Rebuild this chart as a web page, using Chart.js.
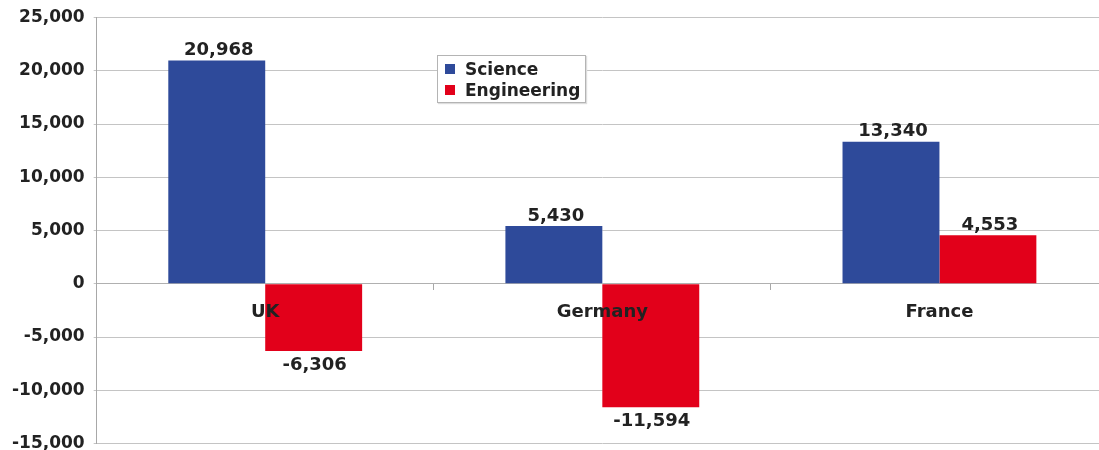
<!DOCTYPE html>
<html>
<head>
<meta charset="utf-8">
<script src="https://cdn.jsdelivr.net/npm/chart.js@4.4.1/dist/chart.umd.min.js"></script>
<style>
  html, body { margin: 0; padding: 0; background: #fff; overflow: hidden; }
  #wrap { position: relative; width: 1112px; height: 450px; overflow: hidden; }
  #legend {
    position: absolute; left: 437px; top: 55px; width: 147px; height: 46px;
    background: #fff; border: 1px solid #b4b4b4; box-shadow: 1px 1px 1px #ddd;
    font: bold 17px "DejaVu Sans", sans-serif; color: #222;
  }
  #legend .item { position: absolute; left: 7px; height: 20px; line-height: 20px; white-space: nowrap; }
  #legend .box { display: inline-block; width: 10px; height: 10px; margin-right: 10px; vertical-align: 1px; }
</style>
</head>
<body>
<div id="wrap">
  <canvas id="chart" width="1112" height="461"></canvas>
  <div id="legend"></div>
</div>
<script>
// Kategorije i vrednosti
const countries = ['UK', 'Germany', 'France'];
const scienceValues = [20968, 5430, 13340];
const engineeringValues = [-6306, -11594, 4553];
const seriesNames = ['Science', 'Engineering'];
const seriesColors = ['#2e4a9a', '#e2001a'];

const tickMin = -15000;
const tickMax = 25000;
const tickStep = 5000;

const fmt = v => v.toLocaleString('en-US');

// Natpisi vrednosti iznad/ispod stubova
const valueLabels = {
  id: 'valueLabels',
  afterDatasetsDraw(chart) {
    const ctx = chart.ctx;
    ctx.save();
    ctx.font = 'bold 18px "DejaVu Sans", sans-serif';
    ctx.fillStyle = '#222';
    ctx.textAlign = 'center';
    chart.data.datasets.forEach((ds, i) => {
      chart.getDatasetMeta(i).data.forEach((bar, j) => {
        const v = ds.data[j];
        if (v >= 0) {
          ctx.textBaseline = 'bottom';
          ctx.fillText(fmt(v), bar.x + 2, bar.y - 1);
        } else {
          ctx.textBaseline = 'top';
          ctx.fillText(fmt(v), bar.x + 1, bar.y + 5);
        }
      });
    });
    ctx.restore();
  }
};

const ctx = document.getElementById('chart').getContext('2d');
const chart = new Chart(ctx, {
  type: 'bar',
  data: {
    labels: countries,
    datasets: [
      { label: seriesNames[0], data: scienceValues, backgroundColor: seriesColors[0] },
      { label: seriesNames[1], data: engineeringValues, backgroundColor: seriesColors[1] }
    ]
  },
  options: {
    responsive: false,
    animation: false,
    layout: { padding: { left: 3, right: 4, top: 17, bottom: 7 } },
    datasets: { bar: { categoryPercentage: 0.575, barPercentage: 1 } },
    plugins: {
      legend: { display: false },
      tooltip: { enabled: false }
    },
    scales: {
      x: {
        position: { y: 0 },
        grid: { drawOnChartArea: false, drawTicks: true, tickLength: 6, offset: true, color: '#a8a8a8' },
        border: { color: '#b0b0b0' },
        ticks: {
          z: 1,
          padding: 12,
          color: '#222',
          font: { family: 'DejaVu Sans', size: 18, weight: 'bold' }
        }
      },
      y: {
        min: tickMin,
        max: tickMax,
        grid: { color: '#c4c4c4', tickLength: 3 },
        border: { color: '#a8a8a8' },
        ticks: {
          stepSize: tickStep,
          padding: 9,
          color: '#222',
          font: { family: 'DejaVu Sans', size: 17, weight: 'bold', lineHeight: 1 },
          callback: v => fmt(v)
        }
      }
    }
  },
  plugins: [valueLabels]
});

// Legenda u HTML-u
const legend = document.getElementById('legend');
chart.data.datasets.forEach((ds, i) => {
  legend.innerHTML += `<div class="item" style="top:${3 + i * 21}px"><span class="box" style="background:${ds.backgroundColor}"></span>${ds.label}</div>`;
});
</script>
</body>
</html>
